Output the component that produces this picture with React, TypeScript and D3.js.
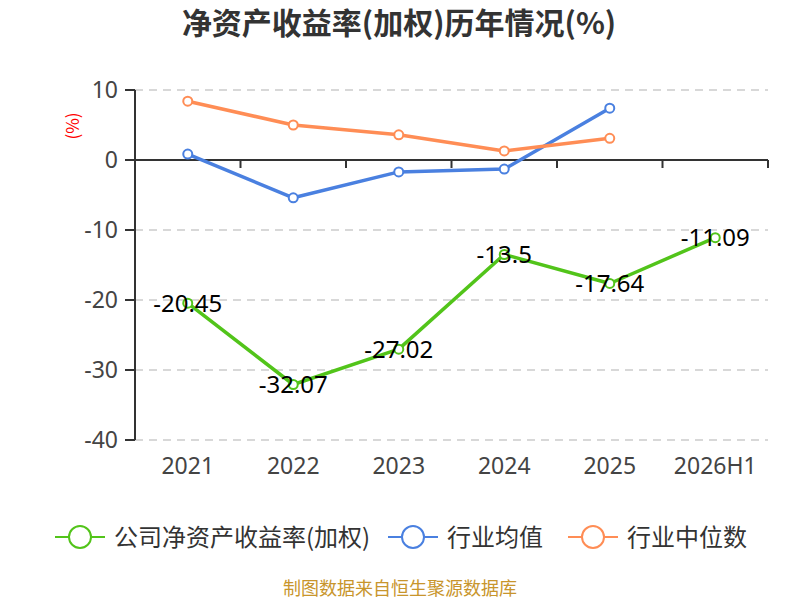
import * as d3 from "d3";
import React from "react";

// data
const years = ["2021", "2022", "2023", "2024", "2025", "2026H1"];
const companyRoe = [-20.45, -32.07, -27.02, -13.5, -17.64, -11.09];
const industryAvg = [0.85, -5.4, -1.7, -1.3, 7.4];
const industryMedian = [8.4, 5.0, 3.6, 1.3, 3.1];
const yTicks = [10, 0, -10, -20, -30, -40];

const series = [
	{ name: "公司净资产收益率(加权)", color: "#52c41a", values: companyRoe, labels: true },
	{ name: "行业均值", color: "#4a80e0", values: industryAvg, labels: false },
	{ name: "行业中位数", color: "#ff8d55", values: industryMedian, labels: false },
];

const W = 800;
const H = 600;
const margin = { top: 90, right: 32, bottom: 160, left: 135 };
const font = "'Noto Sans', 'Noto Sans CJK SC', sans-serif";
const cjkFont = "'Noto Sans CJK SC', sans-serif";

const App: React.FC = () => {
	const innerW = W - margin.left - margin.right;
	const innerH = H - margin.top - margin.bottom;

	const x = d3.scaleBand().domain(years).range([0, innerW]);
	const y = d3.scaleLinear().domain([-40, 10]).range([innerH, 0]);
	const cx = (i: number) => (x(years[i]) || 0) + x.bandwidth() / 2;

	const line = d3
		.line<number>()
		.x((_, i) => cx(i))
		.y((d) => y(d));

	const legendItems = [
		{ x: 55, textX: 114 },
		{ x: 388, textX: 447 },
		{ x: 568, textX: 627 },
	];

	return (
		<svg
			width={W}
			height={H}
			style={{ position: "absolute", left: 0, top: 0, fontFamily: font }}>
			<text
				x={W / 2 - 1}
				y={34}
				textAnchor="middle"
				fontSize={30}
				fontWeight="bold"
				fontFamily={cjkFont}
				fill="#333">
				净资产收益率(加权)历年情况(%)
			</text>
			<text
				transform="translate(79, 126) rotate(-90)"
				textAnchor="middle"
				fontSize={17}
				fontFamily={cjkFont}
				fill="#ff0000">
				(%)
			</text>

			<g transform={`translate(${margin.left}, ${margin.top})`}>
				{yTicks
					.filter((t) => t !== 0)
					.map((t) => (
						<line
							key={t}
							x1={0}
							x2={innerW}
							y1={y(t)}
							y2={y(t)}
							stroke="#cccccc"
							strokeWidth={1.5}
							strokeDasharray="8,6"
						/>
					))}
				{yTicks.map((t) => (
					<g key={t} transform={`translate(0, ${y(t)})`}>
						<line x1={-10} x2={0} stroke="#333" strokeWidth={2} />
						<text
							x={-17}
							dy="0.36em"
							textAnchor="end"
							fontSize={23}
							fill="#444">
							{t}
						</text>
					</g>
				))}
				<line x1={0} x2={0} y1={0} y2={innerH} stroke="#333" strokeWidth={2} />

				{/* x axis sits on zero */}
				<line x1={0} x2={innerW} y1={y(0)} y2={y(0)} stroke="#333" strokeWidth={2} />
				{years.map((yr) => (
					<line
						key={yr}
						x1={(x(yr) || 0) + x.bandwidth()}
						x2={(x(yr) || 0) + x.bandwidth()}
						y1={y(0)}
						y2={y(0) + 8}
						stroke="#333"
						strokeWidth={2}
					/>
				))}
				{years.map((yr, i) => (
					<text
						key={yr}
						x={cx(i)}
						y={innerH + 34}
						textAnchor="middle"
						fontSize={23}
						fill="#444">
						{yr}
					</text>
				))}

				{series.map((s) => (
					<g key={s.name}>
						<path
							d={line(s.values) || ""}
							fill="none"
							stroke={s.color}
							strokeWidth={3.5}
							strokeLinejoin="round"
						/>
						{s.values.map((v, i) => (
							<circle
								key={i}
								cx={cx(i)}
								cy={y(v)}
								r={4.5}
								fill="#fff"
								stroke={s.color}
								strokeWidth={2}
							/>
						))}
						{s.labels &&
							s.values.map((v, i) => (
								<text
									key={"l" + i}
									x={cx(i)}
									y={y(v)}
									dy="0.36em"
									textAnchor="middle"
									fontSize={24}
									fill="#000">
									{v}
								</text>
							))}
					</g>
				))}
			</g>

			{series.map((s, i) => (
				<g key={s.name}>
					<line
						x1={legendItems[i].x}
						x2={legendItems[i].x + 50}
						y1={537}
						y2={537}
						stroke={s.color}
						strokeWidth={2}
					/>
					<circle
						cx={legendItems[i].x + 25}
						cy={537}
						r={11}
						fill="#fff"
						stroke={s.color}
						strokeWidth={2}
					/>
					<text
						x={legendItems[i].textX}
						y={537}
						dy="0.36em"
						fontSize={24}
						fontFamily={cjkFont}
						fill="#333">
						{s.name}
					</text>
				</g>
			))}

			<text
				x={W / 2}
				y={595}
				textAnchor="middle"
				fontSize={18}
				fontFamily={cjkFont}
				fill="#c8952c">
				制图数据来自恒生聚源数据库
			</text>
		</svg>
	);
};

export default App;
